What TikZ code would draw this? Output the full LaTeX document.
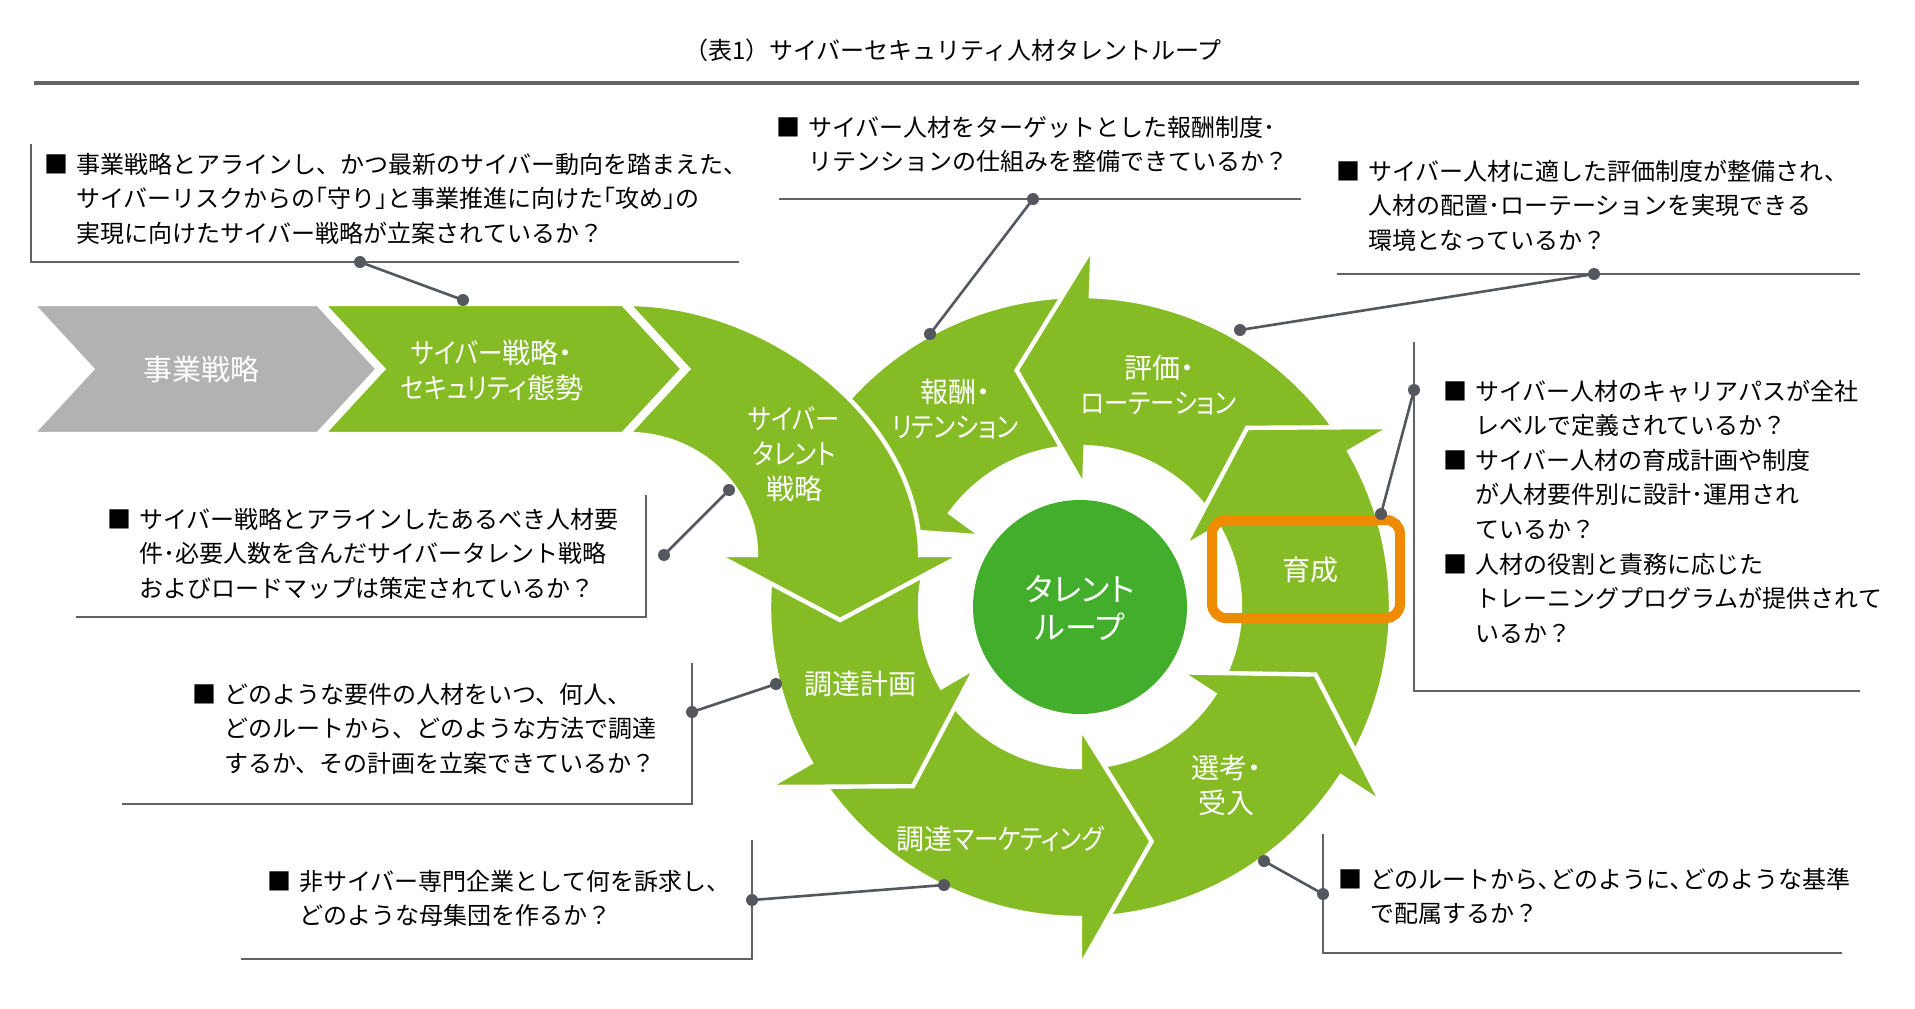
\documentclass[tikz,border=0pt]{standalone}
\usepackage{fontspec}
\newfontfamily\jp{Noto Sans CJK JP}
\newfontfamily\jpl{Noto Sans CJK JP}[RawFeature=+palt]
\newfontfamily\jpk{Noto Sans CJK JP}[RawFeature=+palt,FakeStretch=0.87]
\usetikzlibrary{calc}
\definecolor{bandgreen}{RGB}{133,188,37}
\definecolor{coregreen}{RGB}{67,174,44}
\definecolor{chevgray}{RGB}{178,178,178}
\definecolor{dotgray}{RGB}{84,88,94}
\definecolor{rulegray}{RGB}{98,98,100}
\definecolor{hiorange}{RGB}{238,139,0}
\newcommand\bul{\makebox[16pt][l]{■}}
\newcommand\ind{\hspace*{16pt}}
\newcommand\qtext[1]{\parbox[t]{480pt}{\jp\fontsize{12}{17.3}\selectfont #1}}
\newcommand\kk[1]{{\jpk #1}}
\begin{document}
\begin{tikzpicture}[x=0.5pt,y=-0.5pt,
  piece/.style={fill=bandgreen,draw=white,line width=2.2pt,line join=miter},
  lbl/.style={text=white,align=center,inner sep=0pt,font=\jpl\fontsize{14}{17.5}\selectfont},
  qt/.style={anchor=base west,inner sep=0pt,text=black},
  boxline/.style={draw=rulegray,line width=1.2pt},
  conn/.style={draw=dotgray,line width=1.3pt},
  dot/.style={fill=dotgray}]
\useasboundingbox (0,0) rectangle (1915,1008);
\fill[white] (0,0) rectangle (1915,1008);

% title
\node[font=\jp\fontsize{12}{14}\selectfont,inner sep=0pt] (title) at (953,50) {（表1）サイバーセキュリティ人材タレントループ};
\draw[rulegray,line width=1.6pt] (34,83) -- (1859,83);

% ring pieces (drawn bottom to top)
\begin{scope}[shift={(1080,607)}]
% 報酬・リテンション
\path[piece] (268:311) arc[start angle=268,end angle=216,radius=311] -- (216:360) -- (199:245) -- (216:120) -- (216:160) arc[start angle=216,end angle=268,radius=160] -- cycle;
% 評価・ローテーション
\path[piece] (327:311) arc[start angle=327,end angle=272,radius=311] -- (272:360) -- (255:245) -- (272:120) -- (272:160) arc[start angle=272,end angle=327,radius=160] -- cycle;
% 育成
\path[piece] (30:311) arc[start angle=30,end angle=-30,radius=311] -- (-30:360) -- (-47:245) -- (-30:120) -- (-30:160) arc[start angle=-30,end angle=30,radius=160] -- cycle;
% 選考・受入
\path[piece] (87:311) arc[start angle=87,end angle=33,radius=311] -- (33:360) -- (16:245) -- (33:120) -- (33:160) arc[start angle=33,end angle=87,radius=160] -- cycle;
% 調達マーケティング
\path[piece] (147:311) arc[start angle=147,end angle=90,radius=311] -- (90:360) -- (73:245) -- (90:120) -- (90:160) arc[start angle=90,end angle=147,radius=160] -- cycle;
% 調達計画
\path[piece] (195:311) arc[start angle=195,end angle=150,radius=311] -- (150:360) -- (133:245) -- (150:120) -- (150:160) arc[start angle=150,end angle=195,radius=160] -- cycle;
\end{scope}

% サイバータレント戦略
\path[piece] (628,304) .. controls (770,304) and (920,420) .. (920,555) -- (962,555) -- (840,620) -- (717,555) -- (756,555) .. controls (756,488) and (699,434) .. (628,434) -- (688,369) -- cycle;

% chevrons
\path[piece,fill=chevgray] (32,304) -- (318,304) -- (378,369) -- (318,434) -- (32,434) -- (92,369) -- cycle;
\path[piece] (323,304) -- (623,304) -- (683,369) -- (623,434) -- (323,434) -- (383,369) -- cycle;

% core circle
\node[circle,fill=coregreen,minimum size=107pt,inner sep=0pt] (loop) at (1080,607) {};
\draw[hiorange,line width=5pt,rounded corners=7pt] (1212,520) rectangle (1400,618);

% labels
\node[lbl,font=\jpl\fontsize{14.5}{17.5}\selectfont] (lab0) at (201,369) {事業戦略};
\node[lbl] (lab1) at (492,370) {\kk{サイバー}戦略・\\\kk{セキュリティ}態勢};
\node[lbl] (lab2) at (794,454) {\kk{サイバー}\\\kk{タレント}\\戦略};
\node[lbl] (lab3) at (955,409) {報酬・\\\kk{リテンション}};
\node[lbl] (lab4) at (1159,385) {評価・\\\kk{ローテーション}};
\node[lbl] (lab5) at (860,684) {調達計画};
\node[lbl] (lab6) at (1000,839) {調達\kk{マーケティング}};
\node[lbl] (lab7) at (1226,785) {選考・\\受入};
\node[lbl] (lab8) at (1310,570) {育成};
\node[lbl,font=\jpl\fontsize{16}{19}\selectfont] (core) at (1080,608) {タレント\\ループ};

% box lines
\draw[boxline] (31,144) -- (31,262) -- (739,262);
\draw[boxline] (779,199) -- (1301,199);
\draw[boxline] (1337,274) -- (1860,274);
\draw[boxline] (1414,342) -- (1414,691) -- (1860,691);
\draw[boxline] (76,617) -- (646,617) -- (646,495);
\draw[boxline] (122,804) -- (692,804) -- (692,663);
\draw[boxline] (241,959) -- (752,959) -- (752,840);
\draw[boxline] (1323,834) -- (1323,953) -- (1842,953);

% connector end points
\coordinate (c1a) at (360,262); \coordinate (c1b) at (463,300);
\coordinate (c2a) at (1033,199); \coordinate (c2b) at (930,334);
\coordinate (c3a) at (1594,274); \coordinate (c3b) at (1240,330);
\coordinate (c4a) at (1414,390); \coordinate (c4b) at (1381,514);
\coordinate (c5a) at (664,555); \coordinate (c5b) at (729,490);
\coordinate (c6a) at (692,712); \coordinate (c6b) at (776,684);
\coordinate (c7a) at (752,900); \coordinate (c7b) at (944,885);
\coordinate (c8a) at (1323,894); \coordinate (c8b) at (1264,861);
\foreach \p in {1,...,8}{
  \draw[conn] (c\p a) -- (c\p b);
  \fill[dot] (c\p a) circle[radius=6];
  \fill[dot] (c\p b) circle[radius=6];
}

% question texts
\node[qt] (q1) at (44,173) {\qtext{\bul 事業戦略とアラインし、かつ最新のサイバー動向を踏まえた、\\ \ind サイバーリスクからの｢守り｣と事業推進に向けた｢攻め｣の\\ \ind 実現に向けたサイバー戦略が立案されているか？}};
\node[qt] (q2) at (776,136) {\qtext{\bul サイバー人材をターゲットとした報酬制度･\\ \ind リテンションの仕組みを整備できているか？}};
\node[qt] (q3) at (1336,180) {\qtext{\bul サイバー人材に適した評価制度が整備され、\\ \ind 人材の配置･ローテーションを実現できる\\ \ind 環境となっているか？}};
\node[qt] (q4) at (1443,400) {\qtext{\bul サイバー人材のキャリアパスが全社\\ \ind レベルで定義されているか？\\ \bul サイバー人材の育成計画や制度\\ \ind が人材要件別に設計･運用され\\ \ind ているか？\\ \bul 人材の役割と責務に応じた\\ \ind トレーニングプログラムが提供されて\\ \ind いるか？}};
\node[qt] (q5) at (107,528) {\qtext{\bul サイバー戦略とアラインしたあるべき人材要\\ \ind 件･必要人数を含んだサイバータレント戦略\\ \ind およびロードマップは策定されているか？}};
\node[qt] (q6) at (192,703) {\qtext{\bul どのような要件の人材をいつ、何人、\\ \ind どのルートから、どのような方法で調達\\ \ind するか、その計画を立案できているか？}};
\node[qt] (q7) at (267,890) {\qtext{\bul 非サイバー専門企業として何を訴求し、\\ \ind どのような母集団を作るか？}};
\node[qt] (q8) at (1338,888) {\qtext{\bul どのルートから､どのように､どのような基準\\ \ind で配属するか？}};
\end{tikzpicture}
\end{document}
